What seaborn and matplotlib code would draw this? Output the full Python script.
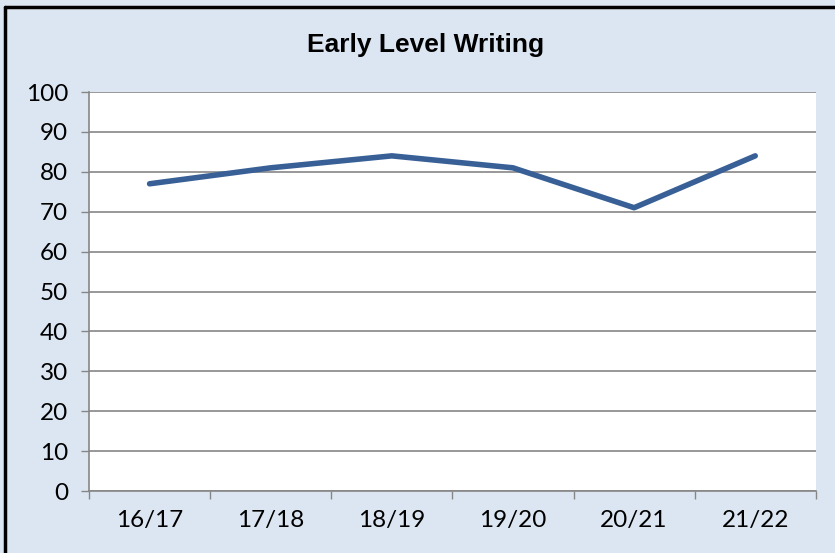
import numpy as np
import pandas as pd
import seaborn as sns
import matplotlib.pyplot as plt
from matplotlib.lines import Line2D

# data
years = ['16/17', '17/18', '18/19', '19/20', '20/21', '21/22']
writing = [77, 81, 84, 81, 71, 84]

df = pd.DataFrame({'year': years, 'pct': writing})
df['pos'] = np.arange(len(years)) + 0.5

sns.set_style('white')
plt.rcParams['font.family'] = ['Lato', 'DejaVu Sans']
plt.rcParams['text.color'] = 'black'

fig = plt.figure(figsize=(8.35, 5.53), dpi=100)
fig.patch.set_facecolor('#DCE6F2')
ax = fig.add_axes([0.1066, 0.1121, 0.8704, 0.7215])
ax.set_facecolor('white')

sns.lineplot(data=df, x='pos', y='pct', color='#386096', linewidth=4,
             solid_capstyle='round', ax=ax)

ax.set_xlim(0, len(years))
ax.set_ylim(0, 100)
ax.set_yticks(range(0, 101, 10))
ax.tick_params(axis='y', labelsize=17.5, length=6, width=1, color='#868686',
               direction='out', pad=9, left=True, labelcolor='black')
ax.yaxis.grid(True, color='#868686', linewidth=1.2)
ax.set_xticks(np.arange(len(years) + 1))
ax.set_xticklabels([''] * (len(years) + 1))
ax.tick_params(axis='x', which='major', length=6, width=1, color='#868686',
               direction='out', bottom=True)
ax.set_xticks(df['pos'], minor=True)
ax.set_xticklabels(years, minor=True)
ax.tick_params(axis='x', which='minor', length=0, labelsize=17.5, pad=14,
               labelcolor='black')
ax.set_xlabel('')
ax.set_ylabel('')
for s in ['top', 'right']:
    ax.spines[s].set_visible(False)
for s in ['left', 'bottom']:
    ax.spines[s].set_color('#868686')
    ax.spines[s].set_linewidth(1.2)

fig.text(0.51, 0.918, 'Early Level Writing', ha='center', va='center',
         fontsize=19, fontweight='bold', family='Liberation Sans', color='black')

# chart frame (left and top edges visible)
fig.add_artist(Line2D([0.006, 0.006], [0, 0.987], color='black', linewidth=2.5,
                      transform=fig.transFigure))
fig.add_artist(Line2D([0.006, 1], [0.987, 0.987], color='black', linewidth=2.5,
                      transform=fig.transFigure))

fig.savefig('out.png', dpi=100, facecolor=fig.get_facecolor())
